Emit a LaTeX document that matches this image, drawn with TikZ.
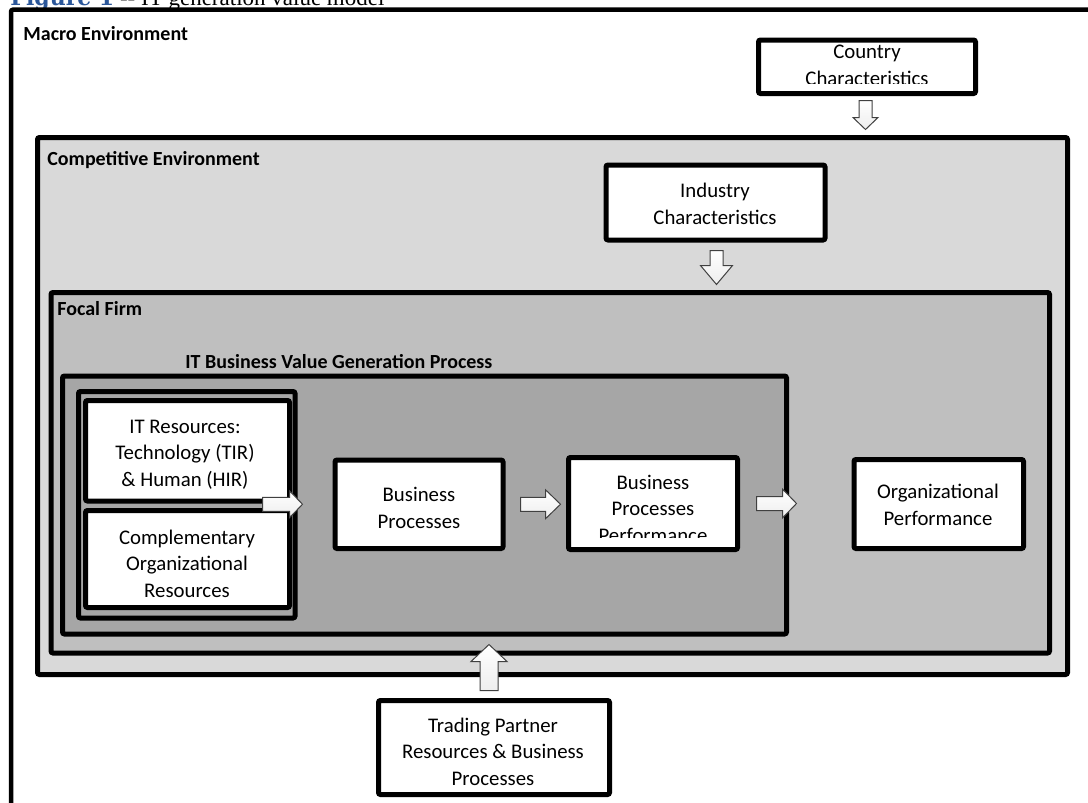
\documentclass[tikz,border=0pt]{standalone}
\usepackage{fontspec}
\setmainfont{Carlito}
\newfontfamily\capserif{Liberation Serif}
\newfontfamily\capboldserif{DejaVu Serif}
\usetikzlibrary{calc,fit}

\definecolor{compfill}{HTML}{D9D9D9}
\definecolor{focalfill}{HTML}{BFBFBF}
\definecolor{procfill}{HTML}{A6A6A6}
\definecolor{capblue}{HTML}{2B579A}
\definecolor{arrowline}{HTML}{404040}

\tikzset{
  heavyline/.style={draw=black, line width=2.5pt, rounded corners=1pt},
  zone/.style={heavyline, inner sep=0pt},
  wbox/.style={heavyline, fill=white, inner sep=0pt},
  % multi-line texts are placed by the baseline of their last line
  boxtext/.style={inner sep=0pt, align=center, anchor=base,
    font=\fontsize{10.4}{13.25}\selectfont},
  framelabel/.style={inner sep=0pt, anchor=base west,
    font=\fontsize{10}{12}\selectfont\bfseries},
  barrow/.style={draw=arrowline, line width=0.5pt, top color=white, bottom color=black!7},
}

% block arrow pointing right: tail, tip, half shaft, half head, head length
\newcommand\rblockarrow[5]{%
  \path[barrow] let \p1=#1, \p2=#2 in
    (\x1,{\y1+#3}) -- ({\x2-#5},{\y1+#3}) -- ({\x2-#5},{\y1+#4}) -- (\x2,\y1)
    -- ({\x2-#5},{\y1-#4}) -- ({\x2-#5},{\y1-#3}) -- (\x1,{\y1-#3}) -- cycle;}
% vertical block arrow: tail, tip, half shaft, half head, signed head length (+ = down)
\newcommand\vblockarrow[5]{%
  \path[barrow] let \p1=#1, \p2=#2 in
    ({\x1-#3},\y1) -- ({\x1-#3},{\y2+(#5)}) -- ({\x1-#4},{\y2+(#5)}) -- (\x1,\y2)
    -- ({\x1+#4},{\y2+(#5)}) -- ({\x1+#3},{\y2+(#5)}) -- ({\x1+#3},\y1) -- cycle;}

\begin{document}
\begin{tikzpicture}[x=0.5pt, y=-0.5pt]
\useasboundingbox (0,0) rectangle (1088,803);
\clip (0,0) rectangle (1088,803);
\fill[white] (0,0) rectangle (1088,803);

% caption line above the figure
\node[inner sep=0pt, anchor=base west] (caption) at (10,5)
  {{\capboldserif\bfseries\color{capblue}\fontsize{11}{13}\selectfont Figure 1}%
   {\capserif\fontsize{11.5}{13}\selectfont\ -- IT generation value model}};

% nested environments
\node[zone, line width=2.25pt, fit={(11,9.7) (1200,900)}] (macro) {};
\node[zone, fill=compfill, fit={(37.5,137.5) (1067.5,674.5)}] (comp) {};
\node[wbox, fit={(606,165) (825,240)}] (ind) {};
\node[zone, fill=focalfill, fit={(51,292.5) (1049.5,653)}] (ff) {};
\node[zone, fill=procfill, fit={(62.5,376) (786.5,634)}] (itbv) {};
\node[zone, fill=procfill, fit={(78.5,391.5) (295,618)}] (res) {};
\node[wbox, fit={(85.5,400.5) (289.5,501)}] (itr) {};
\node[wbox, fit={(85.5,510.5) (289.5,607.5)}] (cor) {};
\node[wbox, fit={(335,460) (503,548.5)}] (bp) {};
\node[wbox, fit={(568.5,457.5) (737.5,549.5)}] (bpp) {};
\node[wbox, fit={(854,459.5) (1023.5,548.5)}] (op) {};
\node[wbox, fit={(758.5,40) (975.5,93.5)}] (cty) {};
\node[wbox, fit={(378.5,700.5) (609.5,794.5)}] (tp) {};

% frame titles
\node[framelabel] (macro-t) at (23,40) {Macro Environment};
\node[framelabel] (comp-t) at (47,165) {Competitive Environment};
\node[framelabel] (ff-t) at (57,315) {Focal Firm};
\node[framelabel] (itbv-t) at (185,368) {IT Business Value Generation Process};

% box texts
\begin{scope}
  \clip (761,42.5) rectangle (973,83);
  \node[boxtext] (cty-t) at (867,85) {Country\\Characteristics};
\end{scope}
\node[boxtext] (ind-t) at (715,224) {Industry\\Characteristics};
\node[boxtext] (itr-t) at (185,486) {IT Resources:\\Technology (TIR)\\\& Human (HIR)};
\node[boxtext] (cor-t) at (187,597) {Complementary\\Organizational\\Resources};
\node[boxtext] (bp-t) at (419,528) {Business\\Processes};
\begin{scope}
  \clip (571,460) rectangle (735,537.5);
  \node[boxtext] (bpp-t) at (653,542) {Business\\Processes\\Performance};
\end{scope}
\node[boxtext] (op-t) at (938,525) {Organizational\\Performance};
\node[boxtext] (tp-t) at (493,785) {Trading Partner\\Resources \& Business\\Processes};

% block arrows
\vblockarrow{($(cty.south)+(-1.5,4.5)$)}{($(cty.south |- comp.north)+(-1.5,-5.5)$)}{3.25pt}{6.25pt}{6pt}
\vblockarrow{($(ind.south)+(1,8)$)}{($(ind.south |- ff.north)+(1,-5.5)$)}{3.25pt}{8pt}{9.5pt}
\vblockarrow{($(tp.north)+(-5,-7.5)$)}{($(tp.north |- ff.south)+(-5,-11)$)}{4.5pt}{9pt}{-8.5pt}
\rblockarrow{($(itr.east |- bp.west)+(-29.5,0)$)}{($(bp.west)+(-30,0)$)}{3.5pt}{6.75pt}{6.5pt}
\rblockarrow{($(bp.east)+(15,0)$)}{($(bpp.west |- bp.east)+(-5.5,0)$)}{3.5pt}{7.25pt}{7.5pt}
\rblockarrow{($(bpp.east)+(16.5,0)$)}{($(op.west |- bpp.east)+(-55,0)$)}{3.5pt}{7.25pt}{7pt}
\end{tikzpicture}
\end{document}
